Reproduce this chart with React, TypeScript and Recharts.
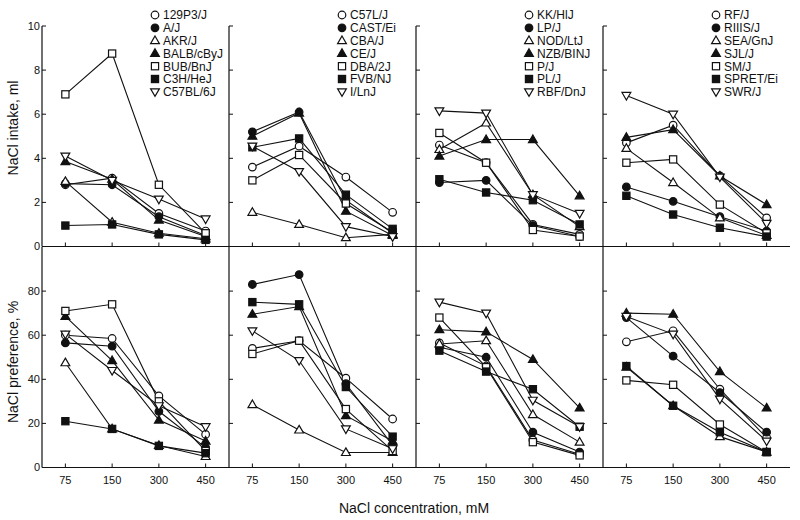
import React from 'react';
import { LineChart, Line, XAxis, YAxis } from 'recharts';

// ---------- data ----------
const concentrations = ['75', '150', '300', '450'];

const strainsA = ['129P3/J', 'A/J', 'AKR/J', 'BALB/cByJ', 'BUB/BnJ', 'C3H/HeJ', 'C57BL/6J'];
const strainsB = ['C57L/J', 'CAST/Ei', 'CBA/J', 'CE/J', 'DBA/2J', 'FVB/NJ', 'I/LnJ'];
const strainsC = ['KK/HlJ', 'LP/J', 'NOD/LtJ', 'NZB/BINJ', 'P/J', 'PL/J', 'RBF/DnJ'];
const strainsD = ['RF/J', 'RIIIS/J', 'SEA/GnJ', 'SJL/J', 'SM/J', 'SPRET/Ei', 'SWR/J'];

// NaCl intake, ml (per strain, at 75/150/300/450 mM)
const intakeA = [
  [2.8, 3.1, 1.5, 0.7],
  [2.85, 2.8, 1.35, 0.5],
  [2.95, 1.1, 0.6, 0.35],
  [3.85, 3.05, 1.2, 0.45],
  [6.9, 8.75, 2.8, 0.6],
  [0.95, 1.0, 0.55, 0.3],
  [4.1, 3.0, 2.15, 1.25],
];
const intakeB = [
  [3.6, 4.55, 3.15, 1.55],
  [5.2, 6.1, 2.1, 0.6],
  [1.55, 1.0, 0.4, 0.55],
  [5.0, 6.05, 1.6, 0.5],
  [3.0, 4.15, 1.95, 0.65],
  [4.5, 4.9, 2.35, 0.8],
  [4.55, 3.4, 0.9, 0.45],
];
const intakeC = [
  [4.6, 3.8, 1.0, 0.55],
  [2.9, 3.0, 0.95, 0.45],
  [4.4, 5.6, 2.35, 0.9],
  [4.1, 4.85, 4.85, 2.3],
  [5.15, 3.8, 0.75, 0.45],
  [3.05, 2.45, 2.1, 1.0],
  [6.15, 6.05, 2.35, 1.5],
];
const intakeD = [
  [4.7, 5.5, 3.2, 1.3],
  [2.7, 2.05, 1.35, 0.7],
  [4.45, 2.9, 1.3, 0.5],
  [4.95, 5.3, 3.2, 1.9],
  [3.8, 3.95, 1.9, 0.6],
  [2.3, 1.45, 0.85, 0.45],
  [6.85, 6.0, 3.15, 1.05],
];

// NaCl preference, %
const preferenceA = [
  [60, 58.5, 32.5, 15],
  [56.5, 55, 25.5, 9],
  [47.5, 17.5, 10, 5],
  [68.5, 48.5, 21.5, 12],
  [71, 74, 30, 7.5],
  [21, 17.5, 9.8, 6.5],
  [60.5, 44, 28, 18.5],
];
const preferenceB = [
  [54, 57.5, 40.5, 22],
  [83, 87.5, 38, 10],
  [28.5, 17, 6.8, 6.8],
  [69.5, 73, 23.5, 12],
  [51.5, 57.5, 26.5, 7.5],
  [75, 74, 36.5, 14],
  [62, 48.5, 17.5, 8.5],
];
const preferenceC = [
  [56.5, 46, 12.5, 6],
  [54.5, 50, 16, 7],
  [56, 57.5, 24, 11.5],
  [62.5, 61.5, 49, 27],
  [68, 45.5, 11.5, 5.5],
  [53, 43.5, 35.5, 18.5],
  [75, 70, 30.5, 18.5],
];
const preferenceD = [
  [57, 62, 35.5, 13.5],
  [68, 50.5, 34, 16],
  [45.5, 28, 14, 7],
  [70, 69.5, 43.5, 27],
  [39.5, 37.5, 19.5, 7],
  [46, 28, 16, 7],
  [68.5, 60.5, 31, 12],
];

const intakeTicks = [0, 2, 4, 6, 8, 10];
const preferenceTicks = [0, 20, 40, 60, 80];

const groups = [
  { names: strainsA, intake: intakeA, preference: preferenceA },
  { names: strainsB, intake: intakeB, preference: preferenceB },
  { names: strainsC, intake: intakeC, preference: preferenceC },
  { names: strainsD, intake: intakeD, preference: preferenceD },
];

// ---------- styling / layout ----------
const INK = '#111';
const FONT = '"Liberation Sans", Arial, Helvetica, sans-serif';
const markerKinds = ['circleOpen', 'circleFilled', 'triOpen', 'triFilled', 'squareOpen', 'squareFilled', 'triDownOpen'];
const PANEL_LEFT = [42, 229, 416, 603];
const PANEL_W = 187;
const PANEL_H = 220.5;
const TOP_Y = 26;
const X_PAD = PANEL_W / 8;

function buildRows(values: number[][]) {
  return concentrations.map((c, i) => {
    const row: Record<string, any> = { conc: c };
    values.forEach((v, s) => {
      row['s' + s] = v[i];
    });
    return row;
  });
}

function Marker({ cx, cy, kind }: { cx?: number; cy?: number; kind: string }) {
  if (cx == null || cy == null || isNaN(cx) || isNaN(cy)) return null;
  const sw = 1.2;
  const filled = kind.indexOf('Filled') >= 0;
  const fill = filled ? INK : '#fff';
  if (kind.startsWith('circle')) {
    return <circle cx={cx} cy={cy} r={3.8} fill={fill} stroke={INK} strokeWidth={sw} />;
  }
  if (kind.startsWith('square')) {
    return <rect x={cx - 3.6} y={cy - 3.6} width={7.2} height={7.2} fill={fill} stroke={INK} strokeWidth={sw} />;
  }
  if (kind === 'triDownOpen') {
    const pts = `${cx - 4.4},${cy - 3} ${cx + 4.4},${cy - 3} ${cx},${cy + 4.6}`;
    return <polygon points={pts} fill="#fff" stroke={INK} strokeWidth={sw} />;
  }
  const pts = `${cx},${cy - 4.6} ${cx + 4.4},${cy + 3} ${cx - 4.4},${cy + 3}`;
  return <polygon points={pts} fill={fill} stroke={INK} strokeWidth={sw} />;
}

function YTick(props: any) {
  const { x, y, payload, showLabel } = props;
  return (
    <g>
      <line x1={x} x2={x + 4} y1={y} y2={y} stroke={INK} strokeWidth={1} />
      {showLabel && (
        <text x={x - 2} y={y} dy="0.36em" textAnchor="end" fontSize={11} fontFamily={FONT} fill={INK}>
          {payload.value}
        </text>
      )}
    </g>
  );
}

function XTick(props: any) {
  const { x, y, payload, showLabel } = props;
  return (
    <g>
      <line x1={x} x2={x} y1={y} y2={y - 4} stroke={INK} strokeWidth={1} />
      {showLabel && (
        <text x={x} y={y + 16} textAnchor="middle" fontSize={11} fontFamily={FONT} fill={INK}>
          {payload.value}
        </text>
      )}
    </g>
  );
}

function Panel({ col, row, values }: { col: number; row: number; values: number[][] }) {
  const isTop = row === 0;
  const yw = col === 0 ? 42 : 2;
  const mt = isTop ? TOP_Y : 2;
  const xh = isTop ? 8 : 40;
  const W = yw + PANEL_W + 2;
  const H = mt + PANEL_H + xh;
  const top = isTop ? 0 : TOP_Y + PANEL_H - mt;
  const left = PANEL_LEFT[col] - yw;
  return (
    <div style={{ position: 'absolute', left, top, width: W, height: H }}>
      <LineChart width={W} height={H} data={buildRows(values)} margin={{ top: mt, right: 2, bottom: 0, left: 0 }}>
        <XAxis
          dataKey="conc"
          type="category"
          height={xh}
          interval={0}
          padding={{ left: X_PAD, right: X_PAD }}
          tickSize={0}
          tickMargin={0}
          tickLine={false}
          axisLine={{ stroke: INK, strokeWidth: 1.2 }}
          tick={(p: any) => <XTick {...p} showLabel={!isTop} />}
        />
        <YAxis
          type="number"
          width={yw}
          domain={isTop ? [0, 10] : [0, 100]}
          ticks={isTop ? intakeTicks : preferenceTicks}
          interval={0}
          tickSize={0}
          tickMargin={0}
          tickLine={false}
          allowDataOverflow
          axisLine={{ stroke: INK, strokeWidth: 1.2 }}
          tick={(p: any) => <YTick {...p} showLabel={col === 0} />}
        />
        {values.map((_, s) => (
          <Line
            key={s}
            type="linear"
            dataKey={'s' + s}
            stroke={INK}
            strokeWidth={1.1}
            isAnimationActive={false}
            activeDot={false}
            dot={(p: any) => <Marker key={`d${s}-${p.index}`} cx={p.cx} cy={p.cy} kind={markerKinds[s]} />}
          />
        ))}
      </LineChart>
    </div>
  );
}

function Legend({ col, names }: { col: number; names: string[] }) {
  const mx = PANEL_LEFT[col] + 113;
  const tx = PANEL_LEFT[col] + 121;
  return (
    <g>
      {names.map((n, i) => {
        const y = 15 + i * 12.8;
        return (
          <g key={n}>
            <Marker cx={mx} cy={y} kind={markerKinds[i]} />
            <text x={tx} y={y} dy="0.36em" fontSize={12} fontFamily={FONT} fill={INK}>
              {n}
            </text>
          </g>
        );
      })}
    </g>
  );
}

export default function App() {
  return (
    <div style={{ position: 'absolute', left: 0, top: 0, width: 800, height: 520, background: '#fff', overflow: 'hidden' }}>
      {groups.map((g, col) => (
        <React.Fragment key={col}>
          <Panel col={col} row={0} values={g.intake} />
          <Panel col={col} row={1} values={g.preference} />
        </React.Fragment>
      ))}
      <svg width={800} height={520} style={{ position: 'absolute', left: 0, top: 0, pointerEvents: 'none' }}>
        {groups.map((g, col) => (
          <Legend key={col} col={col} names={g.names} />
        ))}
        <text transform="translate(18,128) rotate(-90)" textAnchor="middle" fontSize={14} fontFamily={FONT} fill={INK}>
          NaCl intake, ml
        </text>
        <text transform="translate(18,362) rotate(-90)" textAnchor="middle" fontSize={14} fontFamily={FONT} fill={INK}>
          NaCl preference, %
        </text>
        <text x={414} y={513} textAnchor="middle" fontSize={14} fontFamily={FONT} fill={INK}>
          NaCl concentration, mM
        </text>
      </svg>
    </div>
  );
}
